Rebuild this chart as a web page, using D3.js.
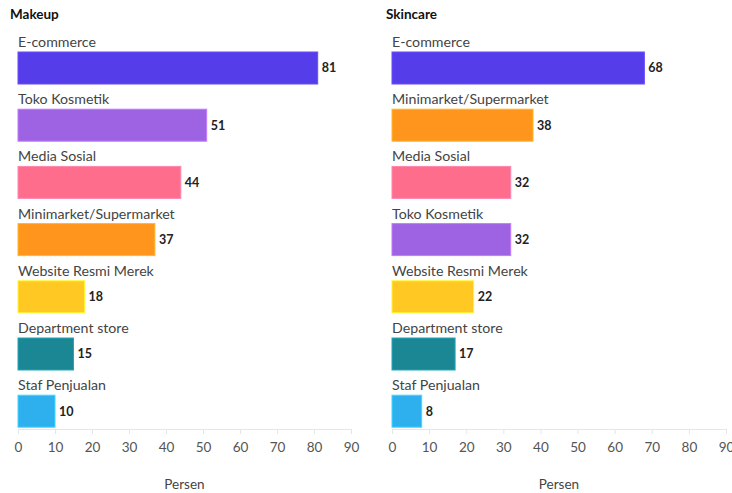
<!DOCTYPE html>
<html>
<head>
<meta charset="utf-8">
<script src="https://cdn.jsdelivr.net/npm/d3@7"></script>
<style>
  body { margin: 0; background: #fff; }
  svg text { font-family: "Source Sans Pro", Lato, "Open Sans", sans-serif; }
</style>
</head>
<body>
<div id="chart"></div>
<script>
// data
const makeupCategories = ["E-commerce", "Toko Kosmetik", "Media Sosial", "Minimarket/Supermarket", "Website Resmi Merek", "Department store", "Staf Penjualan"];
const makeupValues = [81, 51, 44, 37, 18, 15, 10];
const skincareCategories = ["E-commerce", "Minimarket/Supermarket", "Media Sosial", "Toko Kosmetik", "Website Resmi Merek", "Department store", "Staf Penjualan"];
const skincareValues = [68, 38, 32, 32, 22, 17, 8];
const xTicks = [0, 10, 20, 30, 40, 50, 60, 70, 80, 90];

const colorOf = {
  "E-commerce": "#553de9",
  "Toko Kosmetik": "#9d63e3",
  "Media Sosial": "#ff6d8d",
  "Minimarket/Supermarket": "#ff951c",
  "Website Resmi Merek": "#ffc822",
  "Department store": "#1b8794",
  "Staf Penjualan": "#2eb0ef"
};

const W = 732, H = 493;
const svg = d3.select("#chart").append("svg")
  .attr("width", W).attr("height", H);

const panels = [
  {title: "Makeup", cats: makeupCategories, vals: makeupValues, x0: 18, x1: 351, tx: 10},
  {title: "Skincare", cats: skincareCategories, vals: skincareValues, x0: 392, x1: 726, tx: 386}
];

const plotTop = 52, step = 57.2, barH = 32, axisY = 429;

panels.forEach(function(p) {
  const g = svg.append("g");

  g.append("text")
    .attr("x", p.tx).attr("y", 19)
    .attr("font-size", 13.5).attr("font-weight", 700).attr("fill", "#111")
    .text(p.title);

  const x = d3.scaleLinear().domain([0, 90]).range([p.x0, p.x1]);
  const y = d3.scaleBand().domain(p.cats).range([plotTop, plotTop + step * p.cats.length]).paddingInner(0);

  // axis
  const axis = g.append("g")
    .attr("transform", `translate(0, ${axisY})`)
    .call(d3.axisBottom(x).tickValues(xTicks).tickSize(5).tickFormat(d3.format("d")));
  axis.select(".domain").attr("stroke", "#e6e6e6");
  axis.selectAll(".tick line").attr("stroke", "#e6e6e6");
  axis.selectAll(".tick text")
    .attr("fill", "#555").attr("font-size", 13.5).attr("dy", "1.1em")
    .style("font-family", "\"Source Sans Pro\", Lato, \"Open Sans\", sans-serif");

  g.append("text")
    .attr("x", (p.x0 + p.x1) / 2).attr("y", 489)
    .attr("text-anchor", "middle")
    .attr("font-size", 13.5).attr("fill", "#444")
    .text("Persen");

  const rows = g.selectAll(".row")
    .data(p.cats.map(function(c, i) { return {cat: c, val: p.vals[i]}; }))
    .join("g");

  rows.append("text")
    .attr("x", x(0)).attr("y", function(d) { return y(d.cat) - 5; })
    .attr("font-size", 14.2).attr("fill", "#444")
    .text(function(d) { return d.cat; });

  rows.append("rect")
    .attr("x", x(0))
    .attr("y", function(d) { return y(d.cat); })
    .attr("width", function(d) { return x(d.val) - x(0); })
    .attr("height", barH)
    .attr("fill", function(d) { return colorOf[d.cat]; })
    .attr("stroke", function(d) { return d3.color(colorOf[d.cat]).brighter(0.6); })
    .attr("stroke-width", 1);

  rows.append("text")
    .attr("x", function(d) { return x(d.val) + 4; })
    .attr("y", function(d) { return y(d.cat) + barH / 2; })
    .attr("dy", "0.35em")
    .attr("font-size", 12.5).attr("font-weight", 700).attr("fill", "#222")
    .text(function(d) { return d.val; });
});
</script>
</body>
</html>
